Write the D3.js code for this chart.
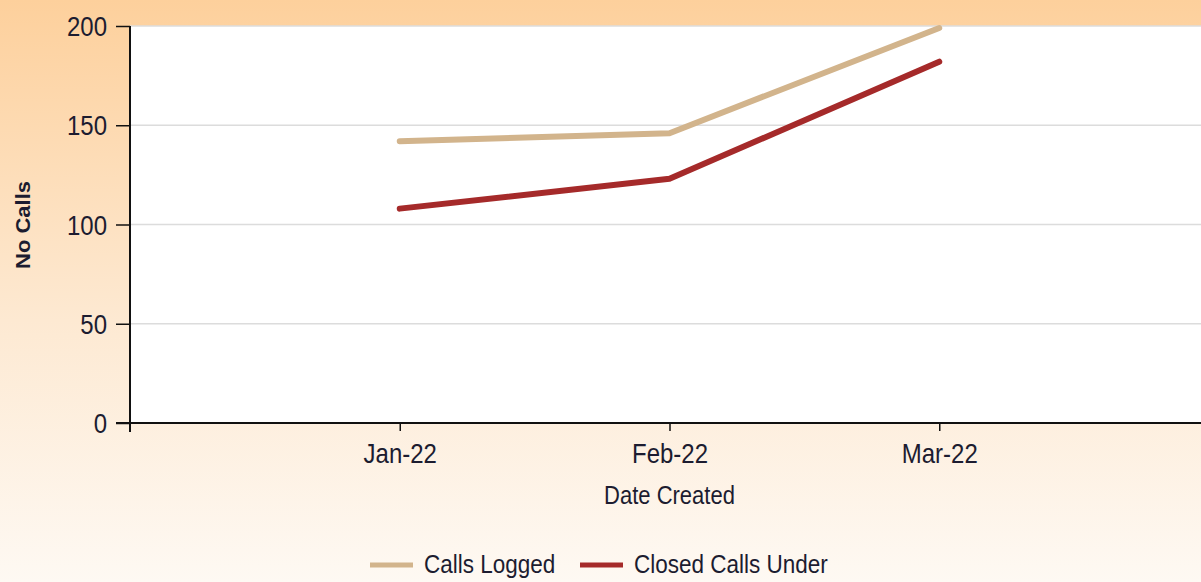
<!DOCTYPE html>
<html>
<head>
<meta charset="utf-8">
<script src="https://cdn.jsdelivr.net/npm/d3@7"></script>
<style>
  body { margin: 0; padding: 0; overflow: hidden; }
  text { font-family: "Liberation Sans", Arial, sans-serif; fill: #1c1c30; }
</style>
</head>
<body>
<div id="chart"></div>
<script>
// data
var months = ["Jan-22", "Feb-22", "Mar-22"];
var callsLogged = [142, 146, 199];
var closedUnder = [108, 123, 182];
var yTicks = [0, 50, 100, 150, 200];
var seriesNames = ["Calls Logged", "Closed Calls Under"];
var seriesColors = ["#d2b48c", "#a52a2a"];

var W = 1201, H = 582;
var margin = { top: 26, right: -8, bottom: 159, left: 130 };
var width = W - margin.left - margin.right,
    height = H - margin.top - margin.bottom;
var stretchY = 1.17;

var svg = d3.select("#chart").append("svg")
    .attr("width", W)
    .attr("height", H);

// text in the original is a bit taller than wide
function stretch(sel) {
    sel.each(function() {
        var t = d3.select(this);
        var tx = +t.attr("x") || 0, ty = +t.attr("y") || 0;
        t.attr("x", 0).attr("y", 0)
            .attr("transform", "translate(" + tx + "," + ty + ") scale(1," + stretchY + ")");
    });
}

// background gradient
var defs = svg.append("defs");
var grad = defs.append("linearGradient")
    .attr("id", "bg")
    .attr("x1", 0).attr("y1", 0).attr("x2", 0).attr("y2", 1);
grad.append("stop").attr("offset", "0%").attr("stop-color", "#fdd09c");
grad.append("stop").attr("offset", "55%").attr("stop-color", "#fde9d2");
grad.append("stop").attr("offset", "100%").attr("stop-color", "#fef9f3");

svg.append("rect")
    .attr("width", W).attr("height", H)
    .attr("fill", "url(#bg)");

var g = svg.append("g")
    .attr("transform", "translate(" + margin.left + "," + margin.top + ")");

// plot area
g.append("rect")
    .attr("width", width).attr("height", height)
    .attr("fill", "#ffffff");

// scales
var x = d3.scalePoint()
    .domain(months)
    .range([0, width])
    .padding(1);

var y = d3.scaleLinear()
    .domain([0, 200])
    .range([height, 0]);

// gridlines
g.selectAll(".grid")
    .data(yTicks.filter(d => d > 0))
    .enter().append("line")
    .attr("class", "grid")
    .attr("x1", 0).attr("x2", width)
    .attr("y1", d => y(d)).attr("y2", d => y(d))
    .attr("stroke", "#dcdcdc")
    .attr("stroke-width", 1.5);

// lines
var line = d3.line()
    .x((d, i) => x(months[i]))
    .y(d => y(d));

[callsLogged, closedUnder].forEach(function(s, i) {
    g.append("path")
        .datum(s)
        .attr("fill", "none")
        .attr("stroke", seriesColors[i])
        .attr("stroke-width", 6)
        .attr("stroke-linecap", "round")
        .attr("stroke-linejoin", "round")
        .attr("d", line);
});

// axes
var yAxis = d3.axisLeft(y)
    .tickValues(yTicks)
    .tickSize(14)
    .tickPadding(9);

var xAxis = d3.axisBottom(x)
    .tickSize(8)
    .tickPadding(12);

var yG = g.append("g").call(yAxis);
yG.select(".domain").attr("stroke", "#111").attr("stroke-width", 2).attr("d", "M0,0V" + (height + 9));
yG.selectAll(".tick line").attr("stroke", "#111").attr("stroke-width", 1.5);
yG.selectAll(".tick text").style("font-size", "24px").attr("dy", "0.34em").call(stretch);

var xG = g.append("g")
    .attr("transform", "translate(0," + height + ")")
    .call(xAxis);
xG.select(".domain").attr("stroke", "#111").attr("stroke-width", 2).attr("d", "M-14,0H" + width);
xG.selectAll(".tick line").attr("stroke", "#111").attr("stroke-width", 1.5);
xG.selectAll(".tick text").style("font-size", "24px").attr("dy", "0.71em").call(stretch);

// axis titles
svg.append("text")
    .attr("x", margin.left + x("Feb-22"))
    .attr("y", 504)
    .attr("text-anchor", "middle")
    .style("font-size", "22px")
    .text("Date Created")
    .call(stretch);

svg.append("text")
    .attr("transform", "translate(30,225) rotate(-90) scale(1.1,1)")
    .attr("text-anchor", "middle")
    .style("font-size", "20px")
    .style("font-weight", "bold")
    .text("No Calls");

// legend
var legendX = [370, 580];
seriesNames.forEach(function(name, i) {
    var lg = svg.append("g")
        .attr("transform", "translate(" + legendX[i] + ",565)");
    lg.append("line")
        .attr("x1", 0).attr("x2", 43)
        .attr("stroke", seriesColors[i])
        .attr("stroke-width", 5);
    lg.append("text")
        .attr("x", 54)
        .attr("y", 8)
        .style("font-size", "22.5px")
        .text(name)
        .call(stretch);
});
</script>
</body>
</html>
